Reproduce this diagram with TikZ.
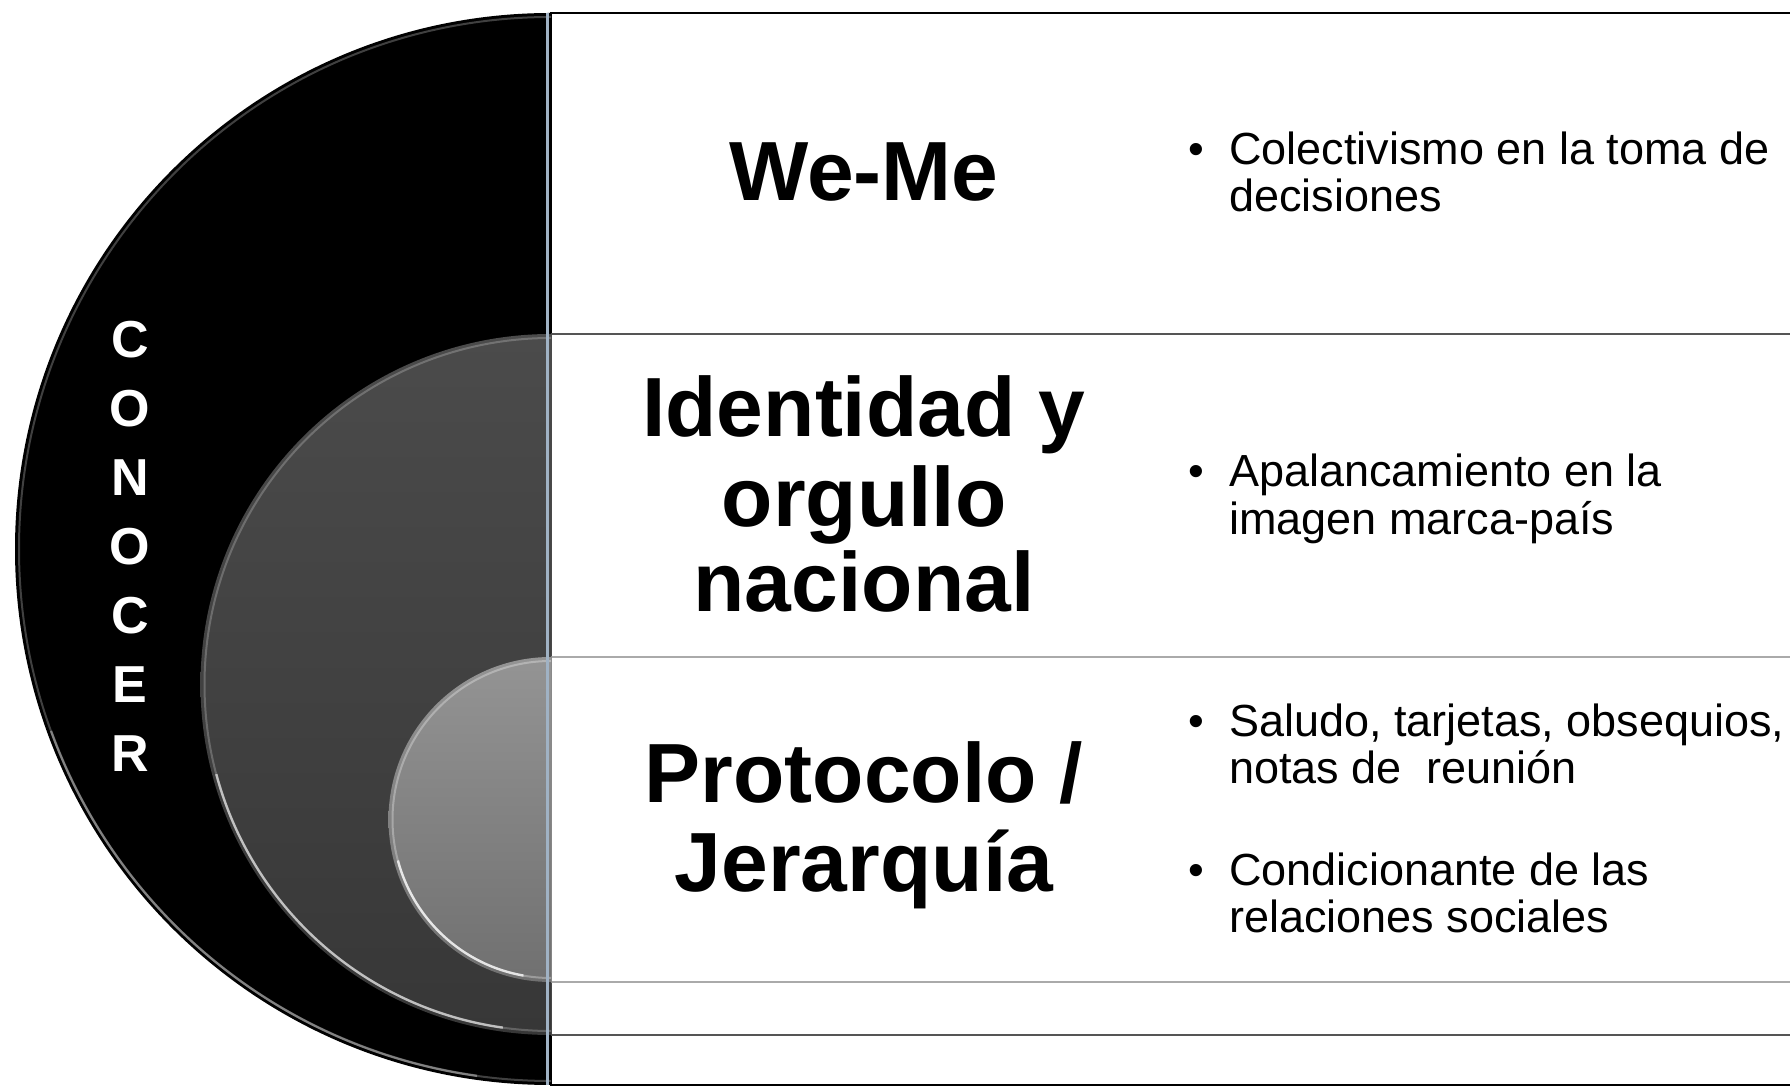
\documentclass[tikz,border=0pt]{standalone}
\usepackage{fontspec}
\setmainfont{Liberation Sans}
\definecolor{edgeblue}{RGB}{160,178,196}
\definecolor{midline}{RGB}{85,85,85}
\definecolor{lightline}{RGB}{170,170,170}
\tikzset{
  title/.style={anchor=base, font=\fontsize{84}{88}\selectfont\bfseries, text=black, inner sep=0pt},
  bullettext/.style={anchor=base west, font=\fontsize{45}{47}\selectfont, text=black, inner sep=0pt},
  bulletmark/.style={anchor=base, font=\fontsize{45}{47}\selectfont, text=black, inner sep=0pt},
  vletter/.style={font=\fontsize{52}{52}\selectfont\bfseries, text=white, inner sep=0pt},
  bevel/.style={white, line width=2pt, opacity=0.22},
  bevelstrong/.style={white, line width=2.4pt, opacity=0.6}
}
\begin{document}
\begin{tikzpicture}[x=1pt,y=1pt]
\useasboundingbox (0,0) rectangle (1790,1087);
\begin{scope}
\clip (0,0) rectangle (1790,1087);
% nested white boxes
\draw[black, line width=2.6pt, fill=white] (551,2) rectangle (1815,1074);
\draw[midline, line width=2.2pt, fill=white] (551,52) rectangle (1815,753);
\draw[lightline, line width=2.2pt, fill=white] (551,105) rectangle (1815,430);
% outer black half disc
\fill[black] (551,1074) arc[start angle=90, end angle=270, radius=536] -- cycle;
\draw[bevel, gray, opacity=0.5] (551,1070) arc[start angle=90, end angle=270, radius=532];
\draw[bevelstrong, opacity=0.35] (551,538) ++(200:532) arc[start angle=200, end angle=262, radius=532];
% middle grey half disc
\shade[top color={rgb,255:red,75;green,75;blue,75}, bottom color={rgb,255:red,55;green,55;blue,55}]
  (551,753) arc[start angle=90, end angle=270, radius=350.5] -- cycle;
\draw[bevel] (551,749) arc[start angle=90, end angle=270, radius=346.5];
\draw[bevelstrong] (551,402.5) ++(195:346.5) arc[start angle=195, end angle=262, radius=346.5];
% inner light grey half disc
\shade[top color={rgb,255:red,148;green,148;blue,148}, bottom color={rgb,255:red,112;green,112;blue,112}]
  (551,430) arc[start angle=90, end angle=270, radius=162.5] -- cycle;
\draw[bevel, opacity=0.3] (551,426) arc[start angle=90, end angle=270, radius=158.5];
\draw[bevelstrong, opacity=0.75] (551,267.5) ++(195:158.5) arc[start angle=195, end angle=260, radius=158.5];
% bevel edge strip
\draw[edgeblue, line width=2.5pt] (547.5,2) -- (547.5,1074);
\end{scope}
% vertical word
\node[vletter] (l1) at (130,747) {C};
\node[vletter] (l2) at (130,678) {O};
\node[vletter] (l3) at (130,609) {N};
\node[vletter] (l4) at (130,540) {O};
\node[vletter] (l5) at (130,471) {C};
\node[vletter] (l6) at (130,402) {E};
\node[vletter] (l7) at (130,333) {R};
% titles
\node[title] (t1) at (864,886) {We-Me};
\node[title] (t2a) at (864,650) {Identidad y};
\node[title] (t2b) at (864,560) {orgullo};
\node[title] (t2c) at (864,475) {nacional};
\node[title] (t3a) at (864,284) {Protocolo /};
\node[title] (t3b) at (864,195) {Jerarquía};
% bullets
\node[bulletmark] (b1) at (1196,922) {•};
\node[bullettext] (b1a) at (1229,922) {Colectivismo en la toma de};
\node[bullettext] (b1b) at (1229,875) {decisiones};
\node[bulletmark] (b2) at (1196,600) {•};
\node[bullettext] (b2a) at (1229,600) {Apalancamiento en la};
\node[bullettext] (b2b) at (1229,552) {imagen marca-país};
\node[bulletmark] (b3) at (1196,350) {•};
\node[bullettext] (b3a) at (1229,350) {Saludo, tarjetas, obsequios,};
\node[bullettext] (b3b) at (1229,303) {notas de\ \ reunión};
\node[bulletmark] (b4) at (1196,201) {•};
\node[bullettext] (b4a) at (1229,201) {Condicionante de las};
\node[bullettext] (b4b) at (1229,155) {relaciones sociales};
\end{tikzpicture}
\end{document}
